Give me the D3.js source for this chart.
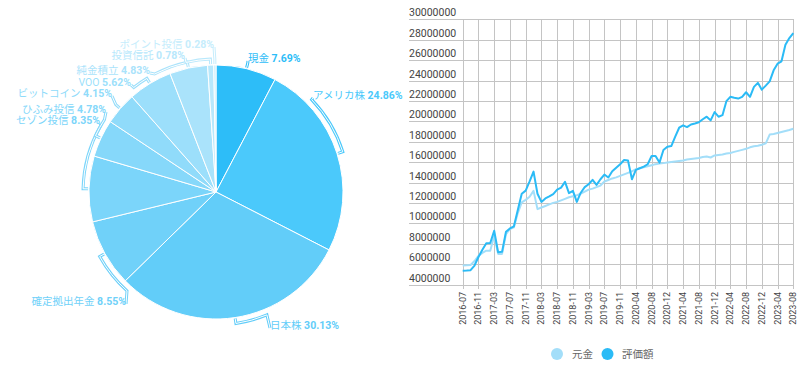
<!DOCTYPE html>
<html><head><meta charset="utf-8">
<script src="https://cdn.jsdelivr.net/npm/d3@7/dist/d3.min.js"></script>
<style>
body{margin:0;background:#fff;}
svg{display:block;font-family:Roboto,"Noto Sans CJK JP",sans-serif;}
</style>
</head><body>
<svg id="c" width="800" height="369"></svg>
<script>
// ---------- data ----------
const assetNames = ["現金","アメリカ株","日本株","確定拠出年金","セゾン投信","ひふみ投信","ビットコイン","VOO","純金積立","投資信託","ポイント投信"];
const assetShares = [7.69,24.86,30.13,8.55,8.35,4.78,4.15,5.62,4.83,0.78,0.28];

const months = [
 "2016-07","2016-08","2016-09","2016-10","2016-11","2016-12",
 "2017-01","2017-02","2017-03","2017-04","2017-05","2017-06","2017-07","2017-08","2017-09","2017-10","2017-11","2017-12",
 "2018-01","2018-02","2018-03","2018-04","2018-05","2018-06","2018-07","2018-08","2018-09","2018-10","2018-11","2018-12",
 "2019-01","2019-02","2019-03","2019-04","2019-05","2019-06","2019-07","2019-08","2019-09","2019-10","2019-11",
 "2020-01","2020-02","2020-03","2020-04","2020-05","2020-06","2020-07","2020-08","2020-09","2020-10","2020-11","2020-12",
 "2021-01","2021-02","2021-03","2021-04","2021-05","2021-06","2021-07","2021-08","2021-09","2021-10","2021-11","2021-12",
 "2022-01","2022-02","2022-03","2022-04","2022-05","2022-06","2022-07","2022-08","2022-09","2022-10","2022-11","2022-12",
 "2023-01","2023-02","2023-03","2023-04","2023-05","2023-06","2023-07","2023-08"
];
// 元金 (principal), in millions of yen
const principal = [
 5.86,5.88,5.92,6.3,6.8,7.1,7.32,7.3,8.79,7.0,
 7.0,8.95,9.44,9.6,11.0,12.05,12.3,12.6,13.18,11.39,
 11.55,11.7,11.85,12.0,12.1,12.25,12.4,12.55,12.65,12.75,
 12.9,13.1,13.3,13.4,13.55,13.7,14.1,14.25,14.4,14.5,
 14.65,14.8,14.95,15.1,15.3,15.4,15.5,15.6,15.7,15.8,
 15.85,15.9,15.95,16.0,16.05,16.1,16.15,16.25,16.3,16.35,
 16.4,16.5,16.55,16.45,16.65,16.7,16.75,16.85,16.9,17.0,
 17.1,17.2,17.3,17.45,17.55,17.6,17.7,17.84,18.7,18.75,
 18.85,18.95,19.05,19.15,19.27
];
// 評価額 (valuation), in millions of yen
const valuation = [
 5.35,5.37,5.4,5.86,6.7,7.4,8.05,8.07,9.27,7.16,
 7.2,9.18,9.5,9.7,11.3,12.9,13.2,14.1,15.07,12.9,
 12.1,12.44,12.63,12.86,13.3,13.5,14.06,12.96,13.18,12.1,
 13.0,13.55,13.83,14.26,13.77,14.32,14.78,14.49,15.1,15.45,
 15.79,16.2,16.15,14.32,15.23,15.4,15.56,15.79,16.6,16.6,
 15.95,17.18,17.5,17.57,18.5,19.37,19.6,19.43,19.69,19.79,
 19.9,20.2,20.45,20.09,20.9,20.45,20.6,21.97,22.4,22.3,
 22.23,22.4,22.85,22.4,23.37,23.77,23.1,23.5,23.92,25.0,
 25.65,25.88,27.5,28.16,28.65
];
const yTicks = [4000000,6000000,8000000,10000000,12000000,14000000,16000000,18000000,20000000,22000000,24000000,26000000,28000000,30000000];
const seriesNames = ["元金","評価額"];

// ---------- styles / layout ----------
const sliceColors = ["#2dbdf8","#4bc9fb","#62cdf9","#70d1f9","#7bd5fa","#86d8fa","#90dbfa","#9cdffb","#aae3fb","#b8e8fc","#c6edfc"];
const lineColors = ["#a3def9","#2bbbf6"];
// label layout: arc end angle (deg), text offset from pie centre, anchor
const labelLayout = [
 {arcEnd:null, dx:32,  dy:-134, anchor:"start"},
 {arcEnd:46,   dx:97,  dy:-97,  anchor:"start"},
 {arcEnd:157.5,dx:54,  dy:133,  anchor:"start"},
 {arcEnd:222,  dx:-90, dy:109,  anchor:"end"},
 {arcEnd:300,  dx:-116,dy:-72,  anchor:"end"},
 {arcEnd:303,  dx:-110,dy:-83,  anchor:"end"},
 {arcEnd:null, dx:-104,dy:-99,  anchor:"end"},
 {arcEnd:321.8,dx:-85, dy:-110, anchor:"end"},
 {arcEnd:332.5,dx:-66, dy:-122, anchor:"end"},
 {arcEnd:347,  dx:-31, dy:-137, anchor:"end"},
 {arcEnd:null, dx:-2,  dy:-148, anchor:"end"}
];

const svg = d3.select("#c");

// ---------- pie ----------
const cx = 216, cy = 192, R = 127;
const pieGen = d3.pie().sort(null).value(d => d);
const arcs = pieGen(assetShares);
const arcGen = d3.arc().innerRadius(0).outerRadius(R);
const gPie = svg.append("g").attr("transform", `translate(${cx},${cy})`);
gPie.selectAll("path.slice").data(arcs).join("path")
  .attr("class","slice")
  .attr("d", arcGen)
  .attr("fill", (d,i) => sliceColors[i])
  .attr("stroke", "#fff").attr("stroke-width", 1);

function polar(deg, r){ const a = deg*Math.PI/180; return [r*Math.sin(a), -r*Math.cos(a)]; }
const RR = 133;
arcs.forEach((d,i) => {
  const L = labelLayout[i];
  const mid = (d.startAngle + d.endAngle)/2*180/Math.PI;
  const p0 = polar(mid, R+1);
  const p1 = polar(mid, RR);
  const tx = L.dx, ty = L.dy;
  const end = [tx, ty+3];
  let path = `M${p0[0]},${p0[1]}L${p1[0]},${p1[1]}`;
  if (L.arcEnd !== null) {
    const p2 = polar(L.arcEnd, RR);
    const sweep = L.arcEnd > mid ? 1 : 0;
    path += `A${RR},${RR} 0 0 ${sweep} ${p2[0]},${p2[1]}`;
  }
  path += `L${end[0]},${end[1]}`;
  gPie.append("path").attr("d", path).attr("fill","none")
    .attr("stroke", sliceColors[i]).attr("stroke-width", 3);
  gPie.append("path").attr("d", path).attr("fill","none")
    .attr("stroke", "#fff").attr("stroke-width", 1);
  const t = gPie.append("text")
    .attr("x", tx).attr("y", ty)
    .attr("text-anchor", L.anchor)
    .attr("dominant-baseline","central")
    .attr("font-size", 10.5)
    .attr("fill", sliceColors[i]);
  t.append("tspan").text(assetNames[i] + " ");
  t.append("tspan").attr("font-weight","bold").text(assetShares[i].toFixed(2) + "%");
});

// ---------- line chart ----------
const x = d3.scalePoint().domain(months).range([462.7, 793.3]);
const y = d3.scaleLinear().domain([4000000, 30000000]).range([284.5, 19.3]);
const gridColor = "#c4c4c4";
const gLine = svg.append("g");

// horizontal grid
gLine.selectAll("line.h").data(yTicks).join("line")
  .attr("x1", 409).attr("x2", 794)
  .attr("y1", d => Math.round(y(d))+0.5).attr("y2", d => Math.round(y(d))+0.5)
  .attr("stroke", gridColor).attr("stroke-width", 1);
gLine.selectAll("text.yl").data(yTicks).join("text")
  .attr("x", 409).attr("y", d => y(d) - 3)
  .attr("font-size", 10.5).attr("fill", "#444")
  .text(d => d3.format("d")(d));

const labeled = months.filter((m,i) => i % 4 === 0);
gLine.selectAll("line.v").data(labeled).join("line")
  .attr("x1", d => Math.round(x(d))+0.5).attr("x2", d => Math.round(x(d))+0.5)
  .attr("y1", y(30000000)).attr("y2", 289)
  .attr("stroke", gridColor).attr("stroke-width", 1);
gLine.selectAll("text.xl").data(labeled).join("text")
  .attr("transform", d => `translate(${x(d)},292) rotate(-90)`)
  .attr("text-anchor","end").attr("dominant-baseline","central")
  .attr("font-size", 9).attr("fill", "#444")
  .text(d => d);

const lineGen = d3.line().x((d,i) => x(months[i])).y(d => y(d*1e6));
[principal, valuation].forEach((s,k) => {
  gLine.append("path").datum(s).attr("d", lineGen)
    .attr("fill","none").attr("stroke", lineColors[k]).attr("stroke-width", 2)
    .attr("stroke-linejoin","round");
});

// legend
const legX = [557, 607.5], legTextX = [572, 622];
seriesNames.forEach((n,k) => {
  svg.append("circle").attr("cx", legX[k]).attr("cy", 354).attr("r", 6).attr("fill", lineColors[k]);
  svg.append("text").attr("x", legTextX[k]).attr("y", 354).attr("dominant-baseline","central")
    .attr("font-size", 10.5).attr("fill", "#666").text(n);
});
</script>
</body></html>
